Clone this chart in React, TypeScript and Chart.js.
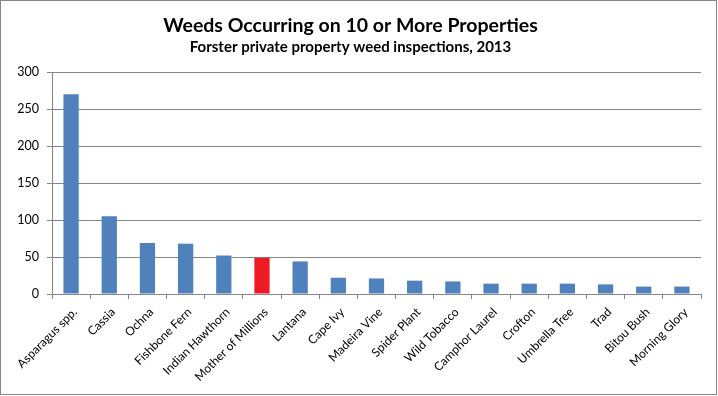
import React, { useEffect, useRef } from 'react';
import { Chart, registerables } from 'chart.js';

Chart.register(...registerables);

const titleText = 'Weeds Occurring on 10 or More Properties';
const subtitleText = 'Forster private property weed inspections, 2013';

const categories = [
  'Asparagus spp.',
  'Cassia',
  'Ochna',
  'Fishbone Fern',
  'Indian Hawthorn',
  'Mother of Millions',
  'Lantana',
  'Cape Ivy',
  'Madeira Vine',
  'Spider Plant',
  'Wild Tobacco',
  'Camphor Laurel',
  'Crofton',
  'Umbrella Tree',
  'Trad',
  'Bitou Bush',
  'Morning Glory',
];

const propertyCounts = [270, 105, 69, 68, 52, 49, 44, 22, 21, 18, 17, 14, 14, 14, 13, 10, 10];

const highlighted = 'Mother of Millions';

const yMin = 0;
const yMax = 300;
const yStep = 50;

const FONT = 'Lato, "Open Sans", sans-serif';
const GRID = '#868686';

export default function App() {
  const canvasRef = useRef<HTMLCanvasElement | null>(null);

  useEffect(() => {
    document.body.style.margin = '0';
    const canvas = canvasRef.current;
    if (!canvas) return;
    const chart = new Chart(canvas, {
      type: 'bar',
      data: {
        labels: categories,
        datasets: [
          {
            label: 'Properties',
            data: propertyCounts,
            backgroundColor: categories.map((c) => (c === highlighted ? '#ED1C24' : '#4F81BD')),
            barPercentage: 0.4,
            categoryPercentage: 1,
          },
        ],
      },
      options: {
        responsive: false,
        animation: false,
        devicePixelRatio: 1,
        layout: { padding: { top: 0, left: 0, right: 17, bottom: 0 } },
        plugins: {
          legend: { display: false },
          tooltip: { enabled: false },
          title: {
            display: true,
            text: titleText,
            color: '#000',
            font: { family: FONT, size: 19.5, weight: 'bold', lineHeight: 1 },
            padding: { top: 15.5, bottom: 5 },
          },
          subtitle: {
            display: true,
            text: subtitleText,
            color: '#000',
            font: { family: FONT, size: 15, weight: 'bold', lineHeight: 1 },
            padding: { top: 0, bottom: 17 },
          },
        },
        scales: {
          x: {
            offset: true,
            grid: {
              offset: true,
              drawOnChartArea: false,
              drawTicks: true,
              tickLength: 5,
              color: GRID,
            },
            border: { color: GRID, width: 1 },
            ticks: {
              autoSkip: false,
              maxRotation: 45,
              minRotation: 45,
              color: '#000',
              font: { family: FONT, size: 12 },
              padding: 6,
              labelOffset: 4,
            },
            afterFit: (scale: any) => {
              scale.height = 102;
            },
          },
          y: {
            min: yMin,
            max: yMax,
            grid: {
              color: GRID,
              tickLength: 5,
            },
            border: { color: GRID, width: 1 },
            ticks: {
              stepSize: yStep,
              color: '#000',
              font: { family: FONT, size: 12.5 },
              padding: 8,
            },
            afterFit: (scale: any) => {
              scale.width = 52;
            },
          },
        },
      },
    });
    return () => chart.destroy();
  }, []);

  return (
    <div style={{ position: 'fixed', left: 0, top: 0, width: 718, height: 396, background: '#fff' }}>
      <canvas ref={canvasRef} width={718} height={396} style={{ position: 'absolute', left: 0, top: 0, width: 718, height: 396 }} />
      <div
        style={{
          position: 'absolute',
          left: 0,
          top: 0,
          width: 717,
          height: 395,
          boxSizing: 'border-box',
          border: '1px solid #868686',
          pointerEvents: 'none',
        }}
      />
    </div>
  );
}
